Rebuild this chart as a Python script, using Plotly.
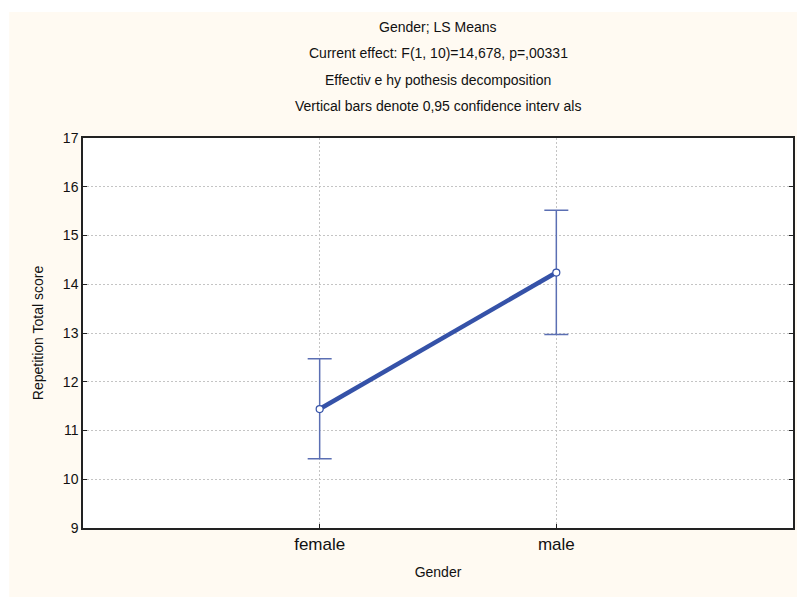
import plotly.graph_objects as go

categories = ["female", "male"]
means = [11.44, 14.24]
ci_upper = [12.47, 15.52]
ci_lower = [10.42, 12.97]
y_ticks = [9, 10, 11, 12, 13, 14, 15, 16, 17]
title_lines = [
    "Gender; LS Means",
    "Current effect: F(1, 10)=14,678, p=,00331",
    "Effectiv e hy pothesis decomposition",
    "Vertical bars denote 0,95 confidence interv als",
]

W, H = 797, 597
L, R, T, B = 83, 2, 138, 69
pw, ph = W - L - R, H - T - B

def px_x(p):
    return (p - L) / pw

def px_y(p):
    return (H - B - p) / ph

blue = "#3552a8"
ebar = "#5b6fb3"
font = "Liberation Sans, Arial, sans-serif"

fig = go.Figure()
fig.add_trace(go.Scatter(
    x=categories, y=means, mode="lines+markers",
    line=dict(color=blue, width=4.5),
    marker=dict(symbol="circle", size=7, color="white", line=dict(color=blue, width=1.2)),
    error_y=dict(type="data", symmetric=False,
                 array=[u - m for u, m in zip(ci_upper, means)],
                 arrayminus=[m - l for m, l in zip(means, ci_lower)],
                 color=ebar, thickness=1.5, width=12),
    showlegend=False,
))

annotations = []
for i, t in enumerate(title_lines):
    annotations.append(dict(text=t, xref="paper", yref="paper", x=0.5, y=px_y(27 + 26.3 * i),
                            xanchor="center", yanchor="middle", showarrow=False,
                            font=dict(family=font, size=14, color="#111")))

shapes = [
    dict(type="rect", xref="paper", yref="paper", x0=px_x(-5), x1=px_x(9), y0=px_y(600), y1=px_y(-5),
         fillcolor="white", line=dict(width=0), layer="above"),
    dict(type="rect", xref="paper", yref="paper", x0=px_x(-5), x1=px_x(800), y0=px_y(12), y1=px_y(-5),
         fillcolor="white", line=dict(width=0), layer="above"),
]

fig.update_layout(
    width=W, height=H,
    margin=dict(l=L, r=R, t=T, b=B),
    paper_bgcolor="#fffaf2",
    plot_bgcolor="white",
    annotations=annotations,
    shapes=shapes,
    font=dict(family=font, color="#111"),
    xaxis=dict(
        type="category", range=[-1, 2],
        showgrid=True, gridcolor="#c4c4c4", griddash="2px,2px", gridwidth=1,
        showline=True, mirror=True, linecolor="#222", linewidth=1.5,
        ticks="inside", ticklen=4, tickcolor="#222",
        tickfont=dict(size=17, family=font, color="#111"),
        title=dict(text="Gender", font=dict(size=14, family=font, color="#111"), standoff=14),
        zeroline=False,
    ),
    yaxis=dict(
        range=[9, 17], tickvals=y_ticks,
        showgrid=True, gridcolor="#c4c4c4", griddash="2px,2px", gridwidth=1,
        showline=True, mirror="ticks", linecolor="#222", linewidth=1.5,
        ticks="inside", ticklen=4, tickcolor="#222",
        tickfont=dict(size=14, family=font, color="#111"),
        title=dict(text="Repetition Total score", font=dict(size=14, family=font, color="#111"), standoff=16),
        zeroline=False,
    ),
)

fig.write_html("out.html")
